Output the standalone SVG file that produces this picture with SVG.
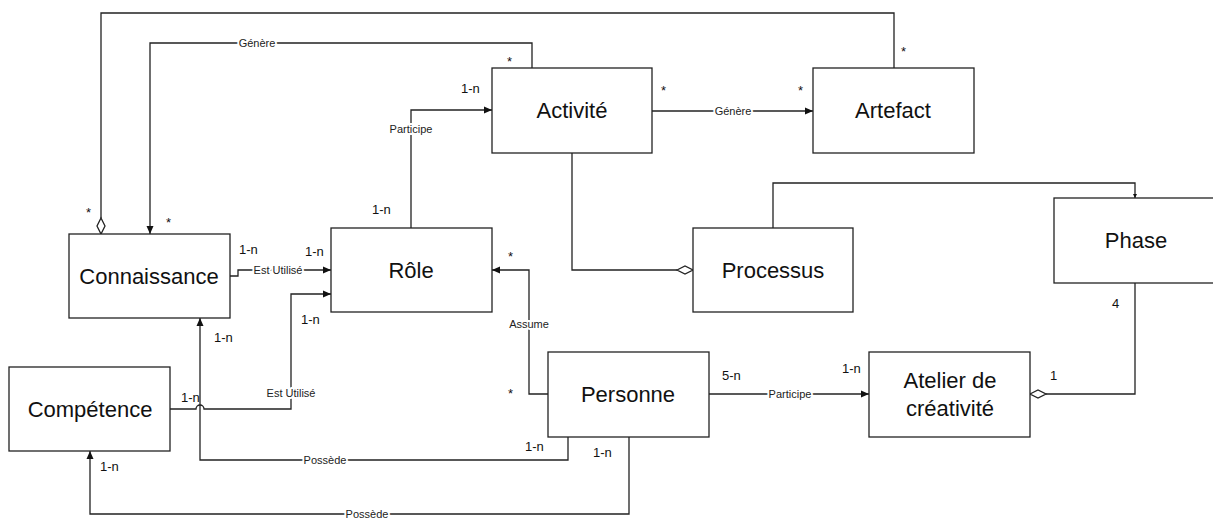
<svg xmlns="http://www.w3.org/2000/svg" width="1213" height="521" viewBox="0 0 1213 521">
<style>
.box{fill:#fff;stroke:#222;stroke-width:1.3}
.name{font-family:"Liberation Sans",Arial,sans-serif;font-size:22px;fill:#111;text-anchor:middle}
.ln{fill:none;stroke:#222;stroke-width:1.3}
.lbl{font-family:"Liberation Sans",Arial,sans-serif;font-size:11px;fill:#222;text-anchor:middle;stroke:#fff;stroke-width:4;paint-order:stroke;stroke-linejoin:round}
.m{font-family:"Liberation Sans",Arial,sans-serif;font-size:13px;fill:#111}
.dia{fill:#fff;stroke:#222;stroke-width:1.3}
</style>
<defs>
<marker id="arr" markerWidth="8" markerHeight="8" refX="8" refY="4" orient="auto" markerUnits="userSpaceOnUse">
<path d="M0,0.5 L8,4 L0,7.5 Z" fill="#111"/>
</marker>
<marker id="tiny" markerWidth="4" markerHeight="4" refX="4" refY="2" orient="auto" markerUnits="userSpaceOnUse">
<path d="M0,0 L4,2 L0,4 Z" fill="#111"/>
</marker>
</defs>
<g id="connectors">
<path class="ln" d="M894,68 V13 H101 V218"/>
<path class="dia" d="M101,218 L105,226 L101,234 L97,226 Z"/>
<path class="ln" d="M532,68 V43 H150 V234" marker-end="url(#arr)"/>
<text class="lbl" x="257" y="47">Génère</text>
<path class="ln" d="M652,111 H813" marker-end="url(#arr)"/>
<text class="lbl" x="733" y="115">Génère</text>
<path class="ln" d="M411,228 V110 H492" marker-end="url(#arr)"/>
<text class="lbl" x="411" y="133">Participe</text>
<path class="ln" d="M230,276 H238 V270 H331" marker-end="url(#arr)"/>
<text class="lbl" x="278" y="274">Est Utilisé</text>
<path class="ln" d="M170,409 H196 A4,4 0 0 1 204,409 H291 V294 H331" marker-end="url(#arr)"/>
<text class="lbl" x="291" y="397">Est Utilisé</text>
<path class="ln" d="M548,394 H529 V270 H492" marker-end="url(#arr)"/>
<text class="lbl" x="529" y="328">Assume</text>
<path class="ln" d="M572,153 V270 H677"/>
<path class="dia" d="M677,270 L685,266 L693,270 L685,274 Z"/>
<path class="ln" d="M773,228 V183 H1135 V198" marker-end="url(#tiny)"/>
<path class="ln" d="M709,394 H869" marker-end="url(#arr)"/>
<text class="lbl" x="790" y="398">Participe</text>
<path class="ln" d="M1135,283 V394 H1046"/>
<path class="dia" d="M1030,394 L1038,390 L1046,394 L1038,398 Z"/>
<path class="ln" d="M568,437 V460 H200 V318" marker-end="url(#arr)"/>
<text class="lbl" x="325" y="464">Possède</text>
<path class="ln" d="M629,437 V514 H90 V451" marker-end="url(#arr)"/>
<text class="lbl" x="367" y="518">Possède</text>
</g>
<g id="multiplicities">
<text class="m" x="507" y="66">*</text>
<text class="m" x="901" y="56">*</text>
<text class="m" x="86" y="217">*</text>
<text class="m" x="166" y="227">*</text>
<text class="m" x="661" y="95">*</text>
<text class="m" x="798" y="95">*</text>
<text class="m" x="461" y="93">1-n</text>
<text class="m" x="372" y="214">1-n</text>
<text class="m" x="239" y="254">1-n</text>
<text class="m" x="305" y="256">1-n</text>
<text class="m" x="301" y="324">1-n</text>
<text class="m" x="214" y="342">1-n</text>
<text class="m" x="181" y="402">1-n</text>
<text class="m" x="100" y="471">1-n</text>
<text class="m" x="508" y="261">*</text>
<text class="m" x="508" y="398">*</text>
<text class="m" x="722" y="380">5-n</text>
<text class="m" x="525" y="451">1-n</text>
<text class="m" x="593" y="457">1-n</text>
<text class="m" x="842" y="373">1-n</text>
<text class="m" x="1050" y="380">1</text>
<text class="m" x="1112" y="308">4</text>
</g>
<g id="activite"><rect class="box" x="492" y="68" width="160" height="85"/><text class="name" x="572" y="118">Activité</text></g>
<g id="artefact"><rect class="box" x="813" y="68" width="161" height="85"/><text class="name" x="893" y="118">Artefact</text></g>
<g id="connaissance"><rect class="box" x="69" y="234" width="161" height="84"/><text class="name" x="149" y="284">Connaissance</text></g>
<g id="role"><rect class="box" x="331" y="228" width="161" height="84"/><text class="name" x="411" y="278">Rôle</text></g>
<g id="processus"><rect class="box" x="693" y="228" width="160" height="84"/><text class="name" x="773" y="278">Processus</text></g>
<g id="phase"><rect class="box" x="1054" y="198" width="170" height="85"/><text class="name" x="1136" y="248">Phase</text></g>
<g id="competence"><rect class="box" x="9" y="367" width="161" height="84"/><text class="name" x="90" y="417">Compétence</text></g>
<g id="personne"><rect class="box" x="548" y="352" width="161" height="85"/><text class="name" x="628" y="402">Personne</text></g>
<g id="atelier"><rect class="box" x="869" y="352" width="161" height="85"/><text class="name" x="950" y="388">Atelier de</text><text class="name" x="950" y="416">créativité</text></g>
</svg>
